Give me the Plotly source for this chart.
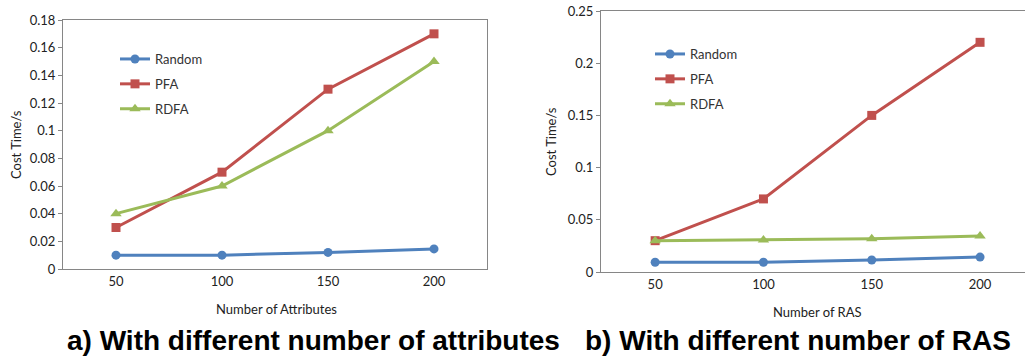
import plotly.graph_objects as go

categories = ["50", "100", "150", "200"]

# (a) different number of attributes
a_random = [0.010, 0.010, 0.012, 0.0145]
a_pfa = [0.030, 0.070, 0.130, 0.170]
a_rdfa = [0.040, 0.060, 0.100, 0.150]

# (b) different number of RAS
b_random = [0.0093, 0.0093, 0.0115, 0.0143]
b_pfa = [0.030, 0.070, 0.150, 0.220]
b_rdfa = [0.030, 0.0306, 0.0318, 0.0345]

series_names = ["Random", "PFA", "RDFA"]
colors = ["#4F81BD", "#C0504D", "#9BBB59"]
symbols = ["circle", "square", "triangle-up"]

W, H = 1025, 356
fig = go.Figure()

def add_series(vals, xa, ya, legend):
    for name, v, c, s in zip(series_names, vals, colors, symbols):
        fig.add_trace(go.Scatter(
            x=categories, y=v, name=name, mode="lines+markers",
            line=dict(color=c, width=3),
            marker=dict(symbol=s, size=10 if s == "triangle-up" else 9, color=c),
            xaxis=xa, yaxis=ya, legend=legend, legendgroup=legend + name,
        ))

add_series([a_random, a_pfa, a_rdfa], "x", "y", "legend")
add_series([b_random, b_pfa, b_rdfa], "x2", "y2", "legend2")

tickfont = dict(family="Lato, Open Sans, sans-serif", size=13, color="#222222")
axis_common = dict(showline=True, linecolor="#868686", linewidth=1, showgrid=False,
                   zeroline=False, tickfont=tickfont, automargin=False)

leg_common = dict(font=dict(family="Lato, Open Sans, sans-serif", size=13, color="#333333"),
                  bgcolor="rgba(0,0,0,0)", tracegroupgap=5, itemwidth=30,
                  xanchor="left", yanchor="top", xref="paper", yref="paper")

fig.update_layout(
    width=W, height=H,
    margin=dict(l=0, r=0, t=0, b=0),
    paper_bgcolor="white", plot_bgcolor="white",
    showlegend=True,
    xaxis=dict(domain=[63 / W, 487 / W], type="category", range=[-0.5, 3.5],
               ticks="", mirror=True, anchor="y", **axis_common),
    yaxis=dict(domain=[87 / H, 336 / H], range=[0, 0.18], dtick=0.02,
               ticks="outside", ticklen=4, tickcolor="#868686", mirror=True,
               anchor="x", tickformat="~g", **axis_common),
    xaxis2=dict(domain=[601 / W, 1.0], type="category", range=[-0.5, 3.415],
                ticks="", mirror=True, anchor="y2", **axis_common),
    yaxis2=dict(domain=[84 / H, 345 / H], range=[0, 0.25], dtick=0.05,
                ticks="outside", ticklen=4, tickcolor="#868686", mirror=False,
                anchor="x2", tickformat="~g", **axis_common),
    legend=dict(x=115 / W, y=(H - 44) / H, **leg_common),
    legend2=dict(x=650 / W, y=(H - 39) / H, **leg_common),
)

lab_font = dict(family="Lato, Open Sans, sans-serif", size=13, color="#222222")
cap_font = dict(family="Liberation Sans, Arial, sans-serif",
                size=28, color="#000000")

def ann(text, x, y, font, angle=0):
    fig.add_annotation(text=text, x=x / W, y=1 - y / H, xref="paper", yref="paper",
                       showarrow=False, font=font, textangle=angle,
                       xanchor="center", yanchor="middle")

ann("Number of Attributes", 276, 309, lab_font)
ann("Number of RAS", 817, 312, lab_font)
ann("Cost Time/s", 16, 145, lab_font, -90)
ann("Cost Time/s", 551, 142, lab_font, -90)
ann("<b>a) With different number of attributes</b>", 313, 340, cap_font)
ann("<b>b) With different number of RAS</b>", 798, 340, cap_font)

fig.write_html("out.html", config={"displayModeBar": False},
               post_script="document.body.style.margin='0px';document.body.style.overflow='hidden';")
